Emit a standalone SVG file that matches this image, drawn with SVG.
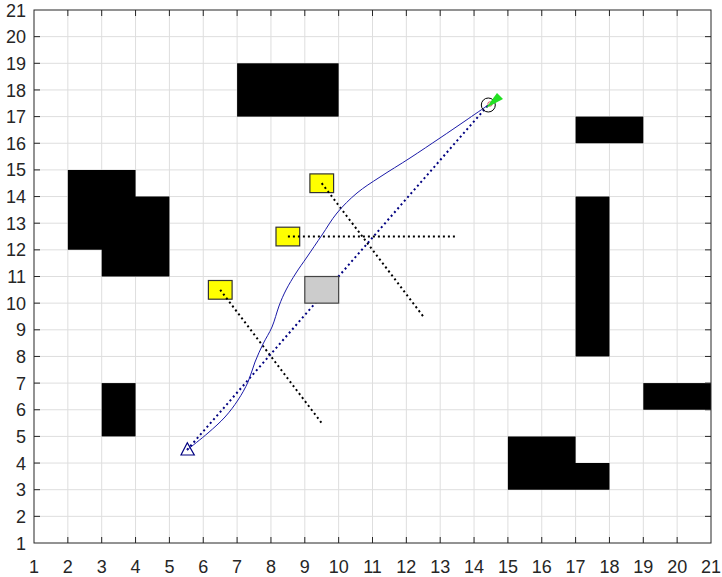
<svg xmlns="http://www.w3.org/2000/svg" width="722" height="577" viewBox="0 0 722 577">
<style>
.grid line{stroke:#dedede;stroke-width:1}
.tick line{stroke:#262626;stroke-width:1}
.lbl{font-family:"Liberation Sans",Arial,sans-serif;font-size:18px;fill:#262626}
.ylbl{text-anchor:end}
.xlbl{text-anchor:middle}
.obs{fill:#000}
.tgt{fill:#ffff00;stroke:#333;stroke-width:1.2}
.kdot{stroke:#000;stroke-width:2;stroke-dasharray:2 3;fill:none}
.bdot{stroke:#000080;stroke-width:2;stroke-dasharray:2 3;fill:none}
</style>
<rect x="0" y="0" width="722" height="577" fill="#fff"/>
<rect x="34" y="10" width="677" height="533" fill="#fff"/>
<g class="grid">
<line x1="67.85" y1="10" x2="67.85" y2="543"/><line x1="101.7" y1="10" x2="101.7" y2="543"/><line x1="135.55" y1="10" x2="135.55" y2="543"/><line x1="169.4" y1="10" x2="169.4" y2="543"/><line x1="203.25" y1="10" x2="203.25" y2="543"/><line x1="237.1" y1="10" x2="237.1" y2="543"/><line x1="270.95" y1="10" x2="270.95" y2="543"/><line x1="304.8" y1="10" x2="304.8" y2="543"/><line x1="338.65" y1="10" x2="338.65" y2="543"/><line x1="372.5" y1="10" x2="372.5" y2="543"/><line x1="406.35" y1="10" x2="406.35" y2="543"/><line x1="440.2" y1="10" x2="440.2" y2="543"/><line x1="474.05" y1="10" x2="474.05" y2="543"/><line x1="507.9" y1="10" x2="507.9" y2="543"/><line x1="541.75" y1="10" x2="541.75" y2="543"/><line x1="575.6" y1="10" x2="575.6" y2="543"/><line x1="609.45" y1="10" x2="609.45" y2="543"/><line x1="643.3" y1="10" x2="643.3" y2="543"/><line x1="677.15" y1="10" x2="677.15" y2="543"/>
<line x1="34" y1="516.35" x2="711" y2="516.35"/><line x1="34" y1="489.7" x2="711" y2="489.7"/><line x1="34" y1="463.05" x2="711" y2="463.05"/><line x1="34" y1="436.4" x2="711" y2="436.4"/><line x1="34" y1="409.75" x2="711" y2="409.75"/><line x1="34" y1="383.1" x2="711" y2="383.1"/><line x1="34" y1="356.45" x2="711" y2="356.45"/><line x1="34" y1="329.8" x2="711" y2="329.8"/><line x1="34" y1="303.15" x2="711" y2="303.15"/><line x1="34" y1="276.5" x2="711" y2="276.5"/><line x1="34" y1="249.85" x2="711" y2="249.85"/><line x1="34" y1="223.2" x2="711" y2="223.2"/><line x1="34" y1="196.55" x2="711" y2="196.55"/><line x1="34" y1="169.9" x2="711" y2="169.9"/><line x1="34" y1="143.25" x2="711" y2="143.25"/><line x1="34" y1="116.6" x2="711" y2="116.6"/><line x1="34" y1="89.95" x2="711" y2="89.95"/><line x1="34" y1="63.3" x2="711" y2="63.3"/><line x1="34" y1="36.65" x2="711" y2="36.65"/>
</g>
<g id="obstacles">
<rect id="obs1" class="obs" x="237.1" y="63.3" width="101.55" height="53.3"/>
<polygon id="obs2" class="obs" points="67.85,169.9 135.55,169.9 135.55,196.55 169.4,196.55 169.4,276.5 101.7,276.5 101.7,249.85 67.85,249.85"/>
<rect id="obs3" class="obs" x="101.7" y="383.1" width="33.85" height="53.3"/>
<rect id="obs4" class="obs" x="575.6" y="116.6" width="67.7" height="26.65"/>
<rect id="obs5" class="obs" x="575.6" y="196.55" width="33.85" height="159.9"/>
<rect id="obs6" class="obs" x="643.3" y="383.1" width="67.7" height="26.65"/>
<polygon id="obs7" class="obs" points="507.9,436.4 575.6,436.4 575.6,463.05 609.45,463.05 609.45,489.7 507.9,489.7"/>
</g>
<g id="target1"><rect class="tgt" x="208.4" y="280.5" width="23.7" height="18.7"/></g>
<g id="target2"><rect class="tgt" x="276.0" y="227.2" width="23.7" height="18.7"/></g>
<g id="target3"><rect class="tgt" x="309.9" y="173.9" width="23.7" height="18.7"/></g>
<g id="connectors">
<line class="kdot" x1="220.2" y1="289.8" x2="321.7" y2="423.1"/>
<line class="kdot" x1="287.9" y1="236.5" x2="457.1" y2="236.5"/>
<line class="kdot" x1="321.7" y1="183.2" x2="423.3" y2="316.5"/>
<line class="bdot" x1="187" y1="450" x2="488.3" y2="105"/>
</g>
<g id="block"><rect x="304.8" y="276.5" width="33.85" height="26.65" fill="#cccccc" stroke="#444" stroke-width="1.2"/></g>
<g id="path">
<path fill="none" stroke="#1a1aa8" stroke-width="1" d="M187,450 C190.5,447.2 201.7,438.5 208,433 C214.3,427.5 220,422.5 225,417 C230,411.5 234.2,405.8 238,400 C241.8,394.2 245.2,388.3 248,382 C250.8,375.7 252.5,368.3 255,362 C257.5,355.7 260.2,349.8 263,344 C265.8,338.2 269.3,333.3 272,327 C274.7,320.7 276.7,312.2 279,306 C281.3,299.8 283.2,295.5 286,290 C288.8,284.5 292.5,278.5 296,273 C299.5,267.5 302.7,263.3 307,257 C311.3,250.7 317,242.3 322,235 C327,227.7 331.2,220 337,213 C342.8,206 349.8,199 357,193 C364.2,187 371.2,182.8 380,177 C388.8,171.2 400,164.5 410,158 C420,151.5 430.8,144.2 440,138 C449.2,131.8 457,126.5 465,121 C473,115.5 484.4,107.7 488.3,105"/>
</g>
<g id="start"><polygon points="187.3,442.7 181,455 194.3,455" fill="none" stroke="#000080" stroke-width="1.2"/></g>
<g id="goal">
<circle cx="488.3" cy="105" r="7" fill="none" stroke="#000" stroke-width="1"/>
<circle cx="490" cy="104" r="2.2" fill="none" stroke="#cc3333" stroke-width="0.8"/>
<polygon points="486,108 497,93 503,99" fill="#22e022"/>
</g>
<g class="tick">
<rect x="34" y="10" width="677" height="533" fill="none" stroke="#262626" stroke-width="1"/>
<path d="M67.85 543v-6M101.7 543v-6M135.55 543v-6M169.4 543v-6M203.25 543v-6M237.1 543v-6M270.95 543v-6M304.8 543v-6M338.65 543v-6M372.5 543v-6M406.35 543v-6M440.2 543v-6M474.05 543v-6M507.9 543v-6M541.75 543v-6M575.6 543v-6M609.45 543v-6M643.3 543v-6M677.15 543v-6M67.85 10v6M101.7 10v6M135.55 10v6M169.4 10v6M203.25 10v6M237.1 10v6M270.95 10v6M304.8 10v6M338.65 10v6M372.5 10v6M406.35 10v6M440.2 10v6M474.05 10v6M507.9 10v6M541.75 10v6M575.6 10v6M609.45 10v6M643.3 10v6M677.15 10v6M34 516.35h6M34 489.7h6M34 463.05h6M34 436.4h6M34 409.75h6M34 383.1h6M34 356.45h6M34 329.8h6M34 303.15h6M34 276.5h6M34 249.85h6M34 223.2h6M34 196.55h6M34 169.9h6M34 143.25h6M34 116.6h6M34 89.95h6M34 63.3h6M34 36.65h6M711 516.35h-6M711 489.7h-6M711 463.05h-6M711 436.4h-6M711 409.75h-6M711 383.1h-6M711 356.45h-6M711 329.8h-6M711 303.15h-6M711 276.5h-6M711 249.85h-6M711 223.2h-6M711 196.55h-6M711 169.9h-6M711 143.25h-6M711 116.6h-6M711 89.95h-6M711 63.3h-6M711 36.65h-6" stroke="#262626" stroke-width="1" fill="none"/>
</g>
<g class="lbl xlbl">
<text x="34" y="573">1</text><text x="67.85" y="573">2</text><text x="101.7" y="573">3</text><text x="135.55" y="573">4</text><text x="169.4" y="573">5</text><text x="203.25" y="573">6</text><text x="237.1" y="573">7</text><text x="270.95" y="573">8</text><text x="304.8" y="573">9</text><text x="338.65" y="573">10</text><text x="372.5" y="573">11</text><text x="406.35" y="573">12</text><text x="440.2" y="573">13</text><text x="474.05" y="573">14</text><text x="507.9" y="573">15</text><text x="541.75" y="573">16</text><text x="575.6" y="573">17</text><text x="609.45" y="573">18</text><text x="643.3" y="573">19</text><text x="677.15" y="573">20</text><text x="711" y="573">21</text>
</g>
<g class="lbl ylbl">
<text x="26" y="549.5">1</text><text x="26" y="522.9">2</text><text x="26" y="496.2">3</text><text x="26" y="469.6">4</text><text x="26" y="442.9">5</text><text x="26" y="416.3">6</text><text x="26" y="389.6">7</text><text x="26" y="363">8</text><text x="26" y="336.3">9</text><text x="26" y="309.7">10</text><text x="26" y="283">11</text><text x="26" y="256.4">12</text><text x="26" y="229.7">13</text><text x="26" y="203.1">14</text><text x="26" y="176.4">15</text><text x="26" y="149.8">16</text><text x="26" y="123.1">17</text><text x="26" y="96.5">18</text><text x="26" y="69.8">19</text><text x="26" y="43.2">20</text><text x="26" y="16.5">21</text>
</g>
</svg>
